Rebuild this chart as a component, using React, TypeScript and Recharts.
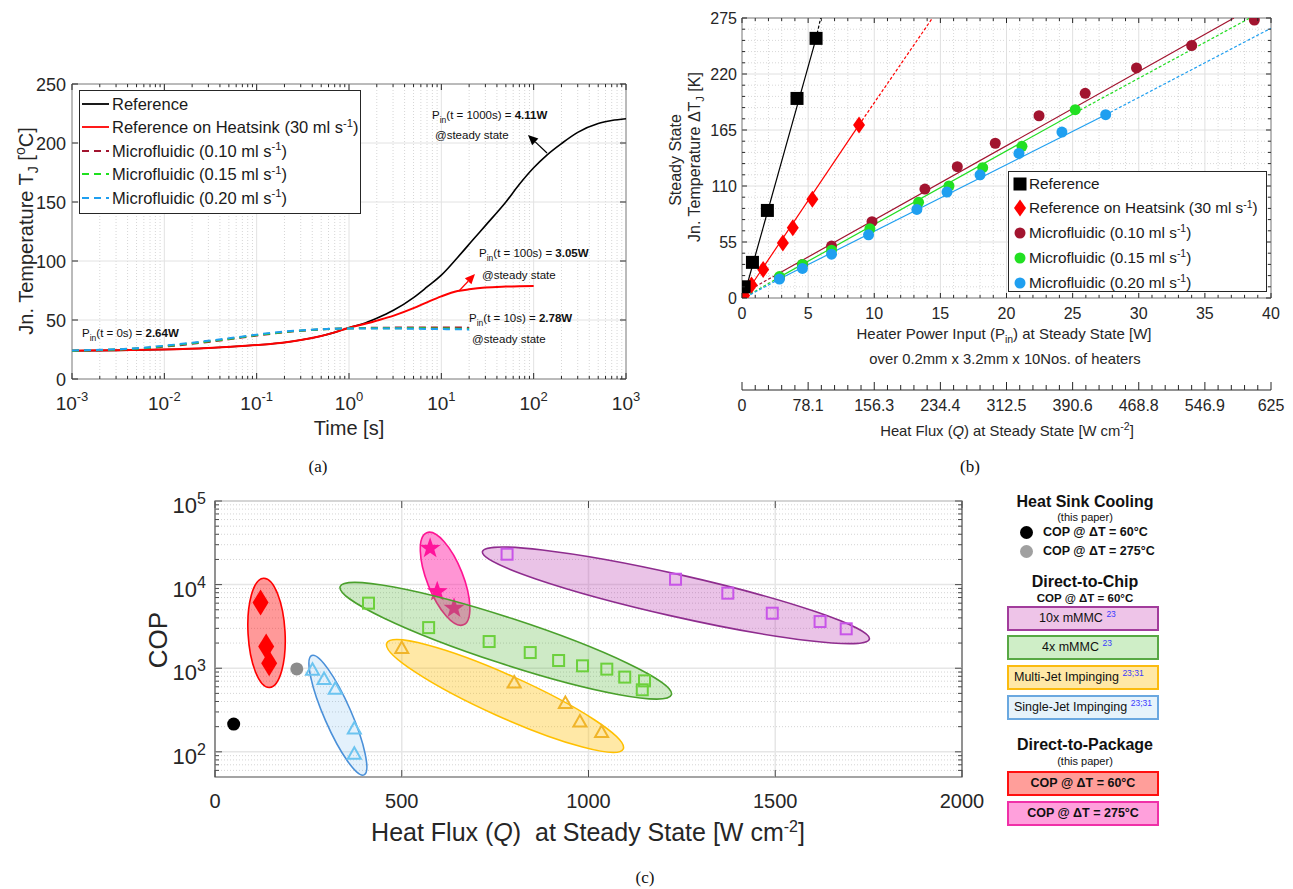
import React from 'react';
import {
  LineChart,
  Line,
  ScatterChart,
  Scatter,
  XAxis,
  YAxis,
  ReferenceLine,
  ReferenceArea,
} from 'recharts';

const SANS = '"Liberation Sans", Arial, Helvetica, sans-serif';
const NARROW = '"Liberation Sans Narrow", "Arial Narrow", "Liberation Sans", sans-serif';
const SERIF = '"Liberation Serif", "DejaVu Serif", serif';
const INK = '#262626';

// ---------- (a) junction temperature vs time ----------
const timeRef = [0.001, 0.003, 0.01, 0.03, 0.1, 0.2, 0.3, 0.5, 0.7, 1, 1.5, 2, 3, 5, 7, 10, 15, 22, 30, 50, 70, 100, 140, 200, 300, 500, 700, 1000];
const tempRef = [24, 24.3, 25, 26.3, 28.8, 31, 33, 36.5, 39.5, 43.5, 47.5, 51.5, 58, 69, 78, 88, 103, 118, 130, 150, 165, 179, 190, 199.5, 209, 216.5, 219, 220.5];
const timeHs = [0.001, 0.003, 0.01, 0.03, 0.1, 0.2, 0.3, 0.5, 0.7, 1, 1.5, 2, 3, 5, 7, 10, 15, 20, 30, 50, 100];
const tempHs = [24, 24.3, 25, 26.3, 28.8, 31, 33, 36.5, 39.5, 43.5, 46.8, 49.5, 53.5, 60, 65, 70, 74.5, 76, 77.5, 78.3, 78.8];
const timeMf = [0.001, 0.002, 0.005, 0.01, 0.02, 0.05, 0.1, 0.2, 0.5, 1, 2, 5, 10, 20];
const tempMf010 = [24, 24.4, 25.6, 27.4, 29.8, 33.6, 36.8, 39.6, 42, 43, 43.4, 43.6, 43.6, 43.5];
const tempMf015 = [24, 24.5, 25.8, 27.8, 30.3, 34, 37.2, 39.9, 42.1, 42.9, 43.1, 43, 42.8, 42.6];
const tempMf020 = [24.2, 24.7, 26.1, 28.2, 30.8, 34.5, 37.6, 40.2, 42.2, 42.8, 42.8, 42.6, 42.3, 42];
const decadesA = [0.001, 0.01, 0.1, 1, 10, 100, 1000];
const tempTicksA = [0, 50, 100, 150, 200, 250];

// ---------- (b) steady state dT vs heater power ----------
const refPower = [0.16, 0.79, 1.92, 4.16, 5.6];
const refDeltaT = [11, 35, 86, 196, 255];
const hsPower = [0.16, 0.72, 1.6, 3.09, 3.84, 5.32, 8.85];
const hsDeltaT = [2.5, 12.7, 28, 54, 69, 97, 170];
const mf010Power = [2.83, 4.57, 6.77, 9.83, 13.83, 16.28, 19.15, 22.46, 25.95, 29.83, 34.0, 38.74];
const mf010DeltaT = [20, 33, 51, 75, 107, 129, 152, 179, 201, 226, 248, 273];
const mf015Power = [2.83, 4.57, 6.77, 9.67, 13.35, 15.65, 18.2, 21.17, 25.2];
const mf015DeltaT = [21, 33, 47, 68, 94, 110, 128, 149, 185];
const mf020Power = [2.83, 4.57, 6.77, 9.57, 13.22, 15.5, 18.0, 20.94, 24.19, 27.5];
const mf020DeltaT = [18.6, 29, 43, 62, 87, 104, 121, 142, 163, 180];
// fitted lines (knots of solid / dashed pieces)
const fitRefPower = [0.15, 5.6, 5.95];
const fitRefDeltaT = [2, 255, 275];
const fitHsPower = [0.15, 8.85, 14.4];
const fitHsDeltaT = [2, 170, 275];
const fitMf010Power = [0, 2.7, 37.2];
const fitMf010DeltaT = [4, 23.5, 275];
const fitMf015Power = [0.3, 2.83, 25.2, 38.4];
const fitMf015DeltaT = [1.5, 20.5, 182, 275];
const fitMf020Power = [0.3, 2.83, 27.5, 40];
const fitMf020DeltaT = [1, 18.6, 180, 265];
const powerTicks = [0, 5, 10, 15, 20, 25, 30, 35, 40];
const deltaTTicks = [0, 55, 110, 165, 220, 275];
const fluxTickLabels = ['0', '78.1', '156.3', '234.4', '312.5', '390.6', '468.8', '546.9', '625'];

// ---------- (c) COP vs heat flux ----------
const hs60Flux = [50];
const hs60Cop = [215];
const hs275Flux = [219];
const hs275Cop = [980];
const dtp60Flux = [122, 137, 145];
const dtp60Cop = [6100, 1815, 1150];
const dtp275Flux = [576, 595, 640];
const dtp275Cop = [27200, 8240, 5220];
const mmmc10Flux = [782, 1233, 1373, 1492, 1620, 1690];
const mmmc10Cop = [23100, 11600, 7900, 4550, 3615, 2960];
const mmmc4Flux = [411, 572, 734, 844, 920, 984, 1049, 1097, 1150, 1144];
const mmmc4Cop = [6000, 3060, 2085, 1540, 1236, 1068, 975, 783, 706, 552];
const multiJetFlux = [500, 801, 938, 977, 1035];
const multiJetCop = [1740, 675, 383, 231, 173];
const singleJetFlux = [261, 292, 322, 373, 373];
const singleJetCop = [957, 741, 568, 190, 95];
// group outlines: [flux tip 1, COP tip 1, flux tip 2, COP tip 2, half width px]
const ellipseDtp60 = [130, 11900, 146, 588, 18.5];
const ellipseSingleJet = [259, 1420, 399, 53, 13.5];
const ellipseDtp275 = [567, 41800, 665, 3300, 18];
const ellipseMmmc4 = [335, 9460, 1222, 481, 23];
const ellipseMultiJet = [460, 2000, 1093, 108, 21];
const ellipseMmmc10 = [716, 24800, 1752, 2230, 21];
const fluxTicksC = [0, 500, 1000, 1500, 2000];
const copDecades = [100, 1000, 10000, 100000];

const pts = (xs: number[], ys: number[]) => xs.map((x, i) => ({ x, y: ys[i] }));
const seg = (xs: number[], ys: number[], a: number, b: number) => pts(xs.slice(a, b + 1), ys.slice(a, b + 1));

// layout
const A = { w: 645, h: 450, top: 84, yw: 72, right: 19, xh: 71, pw: 554, ph: 295 };
const B = { w: 648, h: 450, top: 18, yw: 97, right: 22, pw: 529, ph: 280 };
const C = { w: 860, h: 400, top: 21, yw: 85, right: 28, xh: 103, pw: 747, ph: 276 };

const minorLog = (decades: number[]) => {
  const out: number[] = [];
  decades.slice(0, -1).forEach((d) => {
    for (let m = 2; m <= 9; m++) out.push(+(d * m).toPrecision(3));
  });
  return out;
};
const minorA = minorLog(decadesA);
const ticksA = [...decadesA, ...minorA].sort((a, b) => a - b);
const minorC = [60, 70, 80, 90, ...minorLog(copDecades)];
const ticksCy = [...copDecades, ...minorC].sort((a, b) => a - b);
const powerAll = Array.from({ length: 41 }, (_, i) => i);
const deltaTAll = Array.from({ length: 26 }, (_, i) => i * 11);
const fluxAll = Array.from({ length: 41 }, (_, i) => i * 15.625);

const isDecade = (v: number) => Math.abs(Math.log10(v) - Math.round(Math.log10(v))) < 1e-6;

// ---------- tick renderers ----------
const LogXTickA = (p: any) => {
  const { x, y, payload } = p;
  const major = isDecade(payload.value);
  const len = major ? 6 : 3;
  return (
    <g>
      <line x1={x} x2={x} y1={y} y2={y - len} stroke={INK} />
      <line x1={x} x2={x} y1={y - A.ph} y2={y - A.ph + len} stroke={INK} />
      {major && (
        <text x={x} y={y + 31} textAnchor="middle" fontFamily={SANS} fontSize={19} fill={INK}>
          10<tspan dy={-9} fontSize={13}>{Math.round(Math.log10(payload.value))}</tspan>
        </text>
      )}
    </g>
  );
};

const YTickA = (p: any) => {
  const { x, y, payload } = p;
  return (
    <g>
      <line x1={x} x2={x + 6} y1={y} y2={y} stroke={INK} />
      <line x1={x + A.pw} x2={x + A.pw - 6} y1={y} y2={y} stroke={INK} />
      <text x={x - 6} y={y + 6.5} textAnchor="end" fontFamily={SANS} fontSize={18} fill={INK}>
        {payload.value}
      </text>
    </g>
  );
};

const PowerTick = (p: any) => {
  const { x, y, payload } = p;
  const major = payload.value % 5 === 0;
  const len = major ? 5 : 3;
  return (
    <g>
      <line x1={x} x2={x} y1={y} y2={y - len} stroke={INK} />
      <line x1={x} x2={x} y1={y - B.ph} y2={y - B.ph + len} stroke={INK} />
      {major && (
        <text x={x} y={y + 21} textAnchor="middle" fontFamily={SANS} fontSize={16} fill={INK}>
          {payload.value}
        </text>
      )}
    </g>
  );
};

const FluxTick = (p: any) => {
  const { x, y, index } = p;
  const major = index % 5 === 0;
  return (
    <g>
      <line x1={x} x2={x} y1={y} y2={y - (major ? 8 : 5)} stroke={INK} />
      {major && (
        <text x={x} y={y + 21} textAnchor="middle" fontFamily={SANS} fontSize={16} fill={INK}>
          {fluxTickLabels[index / 5]}
        </text>
      )}
    </g>
  );
};

const DeltaTTick = (p: any) => {
  const { x, y, payload } = p;
  const major = payload.value % 55 === 0;
  const len = major ? 5 : 3;
  return (
    <g>
      <line x1={x} x2={x + len} y1={y} y2={y} stroke={INK} />
      <line x1={x + B.pw} x2={x + B.pw - len} y1={y} y2={y} stroke={INK} />
      {major && (
        <text x={x - 5} y={y + 5.5} textAnchor="end" fontFamily={SANS} fontSize={16} fill={INK}>
          {payload.value}
        </text>
      )}
    </g>
  );
};

const FluxTickC = (p: any) => {
  const { x, y, payload } = p;
  return (
    <g>
      <line x1={x} x2={x} y1={y} y2={y - 7} stroke="#4a4a4a" />
      <line x1={x} x2={x} y1={y - C.ph} y2={y - C.ph + 7} stroke="#4a4a4a" />
      <text x={x} y={y + 31} textAnchor="middle" fontFamily={SANS} fontSize={20} fill={INK}>
        {payload.value}
      </text>
    </g>
  );
};

const CopTick = (p: any) => {
  const { x, y, payload } = p;
  const major = isDecade(payload.value);
  const len = major ? 7 : 4;
  return (
    <g>
      <line x1={x} x2={x + len} y1={y} y2={y} stroke="#4a4a4a" />
      <line x1={x + C.pw} x2={x + C.pw - len} y1={y} y2={y} stroke="#4a4a4a" />
      {major && (
        <text x={x - 9} y={y + 12} textAnchor="end" fontFamily={SANS} fontSize={22} fill={INK}>
          10<tspan dy={-9} fontSize={16}>{Math.round(Math.log10(payload.value))}</tspan>
        </text>
      )}
    </g>
  );
};

// ---------- marker shapes ----------
const none = () => <g />;
const squareFill = (s: number, fill: string) => (p: any) => (
  <rect x={p.cx - s / 2} y={p.cy - s / 2} width={s} height={s} fill={fill} />
);
const diamondFill = (w: number, h: number, fill: string) => (p: any) => (
  <polygon
    points={`${p.cx},${p.cy - h / 2} ${p.cx + w / 2},${p.cy} ${p.cx},${p.cy + h / 2} ${p.cx - w / 2},${p.cy}`}
    fill={fill}
  />
);
const dot = (r: number, fill: string) => (p: any) => <circle cx={p.cx} cy={p.cy} r={r} fill={fill} />;
const starFill = (R: number, fill: string) => (p: any) => {
  const q: string[] = [];
  for (let i = 0; i < 10; i++) {
    const r = i % 2 === 0 ? R : R * 0.4;
    const a = -Math.PI / 2 + (i * Math.PI) / 5;
    q.push(`${p.cx + r * Math.cos(a)},${p.cy + r * Math.sin(a)}`);
  }
  return <polygon points={q.join(' ')} fill={fill} />;
};
const openSquare = (s: number, stroke: string) => (p: any) => (
  <rect x={p.cx - s / 2} y={p.cy - s / 2} width={s} height={s} fill="none" stroke={stroke} strokeWidth={2} />
);
const openTriangle = (stroke: string) => (p: any) => (
  <polygon
    points={`${p.cx},${p.cy - 6.5} ${p.cx + 6.5},${p.cy + 5} ${p.cx - 6.5},${p.cy + 5}`}
    fill="none"
    stroke={stroke}
    strokeWidth={2}
  />
);
const ellipseData = (e: number[]) => [{ x: (e[0] + e[2]) / 2, y: Math.sqrt(e[1] * e[3]), e }];
const ellipseShape = (fill: string, stroke: string) => (p: any) => {
  const e = p.payload.e;
  const dx = ((e[2] - e[0]) * C.pw) / 2000;
  const dy = (-(Math.log10(e[3]) - Math.log10(e[1])) * C.ph) / Math.log10(100000 / 50);
  const rx = Math.hypot(dx, dy) / 2;
  const ang = (Math.atan2(dy, dx) * 180) / Math.PI;
  return (
    <ellipse
      cx={p.cx}
      cy={p.cy}
      rx={rx}
      ry={e[4]}
      transform={`rotate(${ang} ${p.cx} ${p.cy})`}
      fill={fill}
      stroke={stroke}
      strokeWidth={1.6}
    />
  );
};

// ---------- panels ----------
function PanelA() {
  return (
    <LineChart width={A.w} height={A.h} margin={{ top: A.top, right: A.right, left: 0, bottom: 0 }}>
      <XAxis
        type="number"
        dataKey="x"
        scale="log"
        domain={[0.001, 1000]}
        ticks={ticksA}
        interval={0}
        allowDataOverflow
        height={A.xh}
        axisLine={false}
        tickLine={false}
        tickSize={0}
        tickMargin={0}
        tick={LogXTickA}
      />
      <YAxis
        type="number"
        domain={[0, 250]}
        ticks={tempTicksA}
        interval={0}
        allowDataOverflow
        width={A.yw}
        axisLine={false}
        tickLine={false}
        tickSize={0}
        tickMargin={0}
        tick={YTickA}
      />
      {minorA.map((v) => (
        <ReferenceLine key={'m' + v} x={v} stroke="#d6d6d6" strokeDasharray="1 2" />
      ))}
      {decadesA.map((v) => (
        <ReferenceLine key={'d' + v} x={v} stroke="#e2e2e2" />
      ))}
      {tempTicksA.map((v) => (
        <ReferenceLine key={'h' + v} y={v} stroke="#e2e2e2" />
      ))}
      <Line data={pts(timeRef, tempRef)} dataKey="y" type="monotone" stroke="#000" strokeWidth={1.6} dot={false} isAnimationActive={false} />
      <Line data={pts(timeHs, tempHs)} dataKey="y" type="monotone" stroke="#ff0000" strokeWidth={2} dot={false} isAnimationActive={false} />
      <Line data={pts(timeMf, tempMf010)} dataKey="y" type="monotone" stroke="#a2142f" strokeWidth={2} strokeDasharray="7 5" dot={false} isAnimationActive={false} />
      <Line data={pts(timeMf, tempMf015)} dataKey="y" type="monotone" stroke="#1ee01e" strokeWidth={2} strokeDasharray="7 5" dot={false} isAnimationActive={false} />
      <Line data={pts(timeMf, tempMf020)} dataKey="y" type="monotone" stroke="#1f9ff0" strokeWidth={2} strokeDasharray="7 5" dot={false} isAnimationActive={false} />
      <ReferenceArea x1={0.001} x2={1000} y1={0} y2={250} fill="none" stroke={INK} strokeWidth={1} />
    </LineChart>
  );
}

function PanelB() {
  const fitLine = (stroke: string, dashed: boolean) => ({
    stroke,
    strokeWidth: 1.2,
    strokeDasharray: dashed ? '3 2' : undefined,
  });
  return (
    <ScatterChart width={B.w} height={B.h} margin={{ top: B.top, right: B.right, left: 0, bottom: 0 }}>
      <XAxis
        xAxisId="p"
        type="number"
        dataKey="x"
        domain={[0, 40]}
        ticks={powerAll}
        interval={0}
        allowDataOverflow
        height={92}
        axisLine={false}
        tickLine={false}
        tickSize={0}
        tickMargin={0}
        tick={PowerTick}
      />
      <XAxis
        xAxisId="q"
        type="number"
        dataKey="x"
        domain={[0, 625]}
        ticks={fluxAll}
        interval={0}
        allowDataOverflow
        height={60}
        axisLine={{ stroke: INK }}
        tickLine={false}
        tickSize={0}
        tickMargin={0}
        tick={FluxTick}
      />
      <YAxis
        type="number"
        dataKey="y"
        domain={[0, 275]}
        ticks={deltaTAll}
        interval={0}
        allowDataOverflow
        width={B.yw}
        axisLine={false}
        tickLine={false}
        tickSize={0}
        tickMargin={0}
        tick={DeltaTTick}
      />
      {powerAll.filter((v) => v % 5 !== 0).map((v) => (
        <ReferenceLine key={'mx' + v} xAxisId="p" x={v} stroke="#d8d8d8" strokeDasharray="1 2" />
      ))}
      {deltaTAll.filter((v) => v % 55 !== 0).map((v) => (
        <ReferenceLine key={'my' + v} xAxisId="p" y={v} stroke="#d8d8d8" strokeDasharray="1 2" />
      ))}
      {powerTicks.map((v) => (
        <ReferenceLine key={'gx' + v} xAxisId="p" x={v} stroke="#e0e0e0" />
      ))}
      {deltaTTicks.map((v) => (
        <ReferenceLine key={'gy' + v} xAxisId="p" y={v} stroke="#e0e0e0" />
      ))}
      <Scatter xAxisId="p" data={seg(fitRefPower, fitRefDeltaT, 0, 1)} line={fitLine('#000', false)} shape={none} isAnimationActive={false} />
      <Scatter xAxisId="p" data={seg(fitRefPower, fitRefDeltaT, 1, 2)} line={fitLine('#000', true)} shape={none} isAnimationActive={false} />
      <Scatter xAxisId="p" data={seg(fitHsPower, fitHsDeltaT, 0, 1)} line={fitLine('#ff0000', false)} shape={none} isAnimationActive={false} />
      <Scatter xAxisId="p" data={seg(fitHsPower, fitHsDeltaT, 1, 2)} line={fitLine('#ff0000', true)} shape={none} isAnimationActive={false} />
      <Scatter xAxisId="p" data={seg(fitMf010Power, fitMf010DeltaT, 0, 1)} line={fitLine('#a2142f', true)} shape={none} isAnimationActive={false} />
      <Scatter xAxisId="p" data={seg(fitMf010Power, fitMf010DeltaT, 1, 2)} line={fitLine('#a2142f', false)} shape={none} isAnimationActive={false} />
      <Scatter xAxisId="p" data={seg(fitMf015Power, fitMf015DeltaT, 0, 1)} line={fitLine('#22dd22', true)} shape={none} isAnimationActive={false} />
      <Scatter xAxisId="p" data={seg(fitMf015Power, fitMf015DeltaT, 1, 2)} line={fitLine('#22dd22', false)} shape={none} isAnimationActive={false} />
      <Scatter xAxisId="p" data={seg(fitMf015Power, fitMf015DeltaT, 2, 3)} line={fitLine('#22dd22', true)} shape={none} isAnimationActive={false} />
      <Scatter xAxisId="p" data={seg(fitMf020Power, fitMf020DeltaT, 0, 1)} line={fitLine('#1f9ff0', true)} shape={none} isAnimationActive={false} />
      <Scatter xAxisId="p" data={seg(fitMf020Power, fitMf020DeltaT, 1, 2)} line={fitLine('#1f9ff0', false)} shape={none} isAnimationActive={false} />
      <Scatter xAxisId="p" data={seg(fitMf020Power, fitMf020DeltaT, 2, 3)} line={fitLine('#1f9ff0', true)} shape={none} isAnimationActive={false} />
      <Scatter xAxisId="p" data={pts(mf010Power, mf010DeltaT)} shape={dot(5.5, '#a2142f')} isAnimationActive={false} />
      <Scatter xAxisId="p" data={pts(mf015Power, mf015DeltaT)} shape={dot(5.5, '#22e022')} isAnimationActive={false} />
      <Scatter xAxisId="p" data={pts(mf020Power, mf020DeltaT)} shape={dot(5.5, '#1f9ff0')} isAnimationActive={false} />
      <Scatter xAxisId="p" data={pts(hsPower, hsDeltaT)} shape={diamondFill(12, 17, '#ff0000')} isAnimationActive={false} />
      <Scatter xAxisId="p" data={pts(refPower, refDeltaT)} shape={squareFill(13, '#000')} isAnimationActive={false} />
      <ReferenceArea xAxisId="p" x1={0} x2={40} y1={0} y2={275} fill="none" stroke={INK} strokeWidth={1} />
    </ScatterChart>
  );
}

function PanelC() {
  return (
    <ScatterChart width={C.w} height={C.h} margin={{ top: C.top, right: C.right, left: 0, bottom: 0 }}>
      <XAxis
        type="number"
        dataKey="x"
        domain={[0, 2000]}
        ticks={fluxTicksC}
        interval={0}
        allowDataOverflow
        height={C.xh}
        axisLine={false}
        tickLine={false}
        tickSize={0}
        tickMargin={0}
        tick={FluxTickC}
      />
      <YAxis
        type="number"
        dataKey="y"
        scale="log"
        domain={[50, 100000]}
        ticks={ticksCy}
        interval={0}
        allowDataOverflow
        width={C.yw}
        axisLine={false}
        tickLine={false}
        tickSize={0}
        tickMargin={0}
        tick={CopTick}
      />
      {minorC.map((v) => (
        <ReferenceLine key={'mc' + v} y={v} stroke="#d4d4d4" strokeDasharray="1 2" />
      ))}
      {copDecades.map((v) => (
        <ReferenceLine key={'dc' + v} y={v} stroke="#e6e6e6" strokeWidth={1.5} />
      ))}
      {fluxTicksC.slice(1, -1).map((v) => (
        <ReferenceLine key={'vc' + v} x={v} stroke="#e6e6e6" strokeWidth={1.5} />
      ))}
      <Scatter data={ellipseData(ellipseDtp60)} shape={ellipseShape('rgba(255,0,0,0.4)', '#ff0000')} isAnimationActive={false} />
      <Scatter data={ellipseData(ellipseSingleJet)} shape={ellipseShape('rgba(100,180,240,0.18)', '#4a90d9')} isAnimationActive={false} />
      <Scatter data={ellipseData(ellipseDtp275)} shape={ellipseShape('rgba(255,20,160,0.45)', '#ff1493')} isAnimationActive={false} />
      <Scatter data={pts(dtp275Flux, dtp275Cop)} shape={starFill(11, '#ff149b')} isAnimationActive={false} />
      <Scatter data={ellipseData(ellipseMultiJet)} shape={ellipseShape('rgba(255,190,0,0.35)', '#ffc000')} isAnimationActive={false} />
      <Scatter data={ellipseData(ellipseMmmc4)} shape={ellipseShape('rgba(80,180,50,0.28)', '#4aa02c')} isAnimationActive={false} />
      <Scatter data={ellipseData(ellipseMmmc10)} shape={ellipseShape('rgba(180,40,170,0.28)', '#8e2c8e')} isAnimationActive={false} />
      <Scatter data={pts(dtp60Flux, dtp60Cop)} shape={diamondFill(16, 26, '#ff0000')} isAnimationActive={false} />
      <Scatter data={pts(hs60Flux, hs60Cop)} shape={dot(6.5, '#000')} isAnimationActive={false} />
      <Scatter data={pts(hs275Flux, hs275Cop)} shape={dot(6.5, '#8c8c8c')} isAnimationActive={false} />
      <Scatter data={pts(mmmc10Flux, mmmc10Cop)} shape={openSquare(11, '#c855e8')} isAnimationActive={false} />
      <Scatter data={pts(mmmc4Flux, mmmc4Cop)} shape={openSquare(11, '#6cd03c')} isAnimationActive={false} />
      <Scatter data={pts(multiJetFlux, multiJetCop)} shape={openTriangle('#f0b429')} isAnimationActive={false} />
      <Scatter data={pts(singleJetFlux, singleJetCop)} shape={openTriangle('#6cc4f0')} isAnimationActive={false} />
      <ReferenceArea x1={0} x2={2000} y1={50} y2={100000} fill="none" stroke="#4a4a4a" strokeWidth={1.2} />
    </ScatterChart>
  );
}

// ---------- legends ----------
const Sup = ({ children, color }: any) => (
  <span style={{ fontSize: '0.68em', position: 'relative', top: '-0.55em', color }}>{children}</span>
);

const legendA = [
  { color: '#000', dash: false, label: <>Reference</> },
  { color: '#ff0000', dash: false, label: <>Reference on Heatsink (30 ml s<Sup>-1</Sup>)</> },
  { color: '#a2142f', dash: true, label: <>Microfluidic (0.10 ml s<Sup>-1</Sup>)</> },
  { color: '#1ee01e', dash: true, label: <>Microfluidic (0.15 ml s<Sup>-1</Sup>)</> },
  { color: '#1f9ff0', dash: true, label: <>Microfluidic (0.20 ml s<Sup>-1</Sup>)</> },
];

function LegendA() {
  return (
    <div
      style={{
        position: 'absolute', left: 79, top: 90, width: 282, height: 124, boxSizing: 'border-box',
        border: '1px solid #262626', background: '#fff', fontFamily: SANS, fontSize: 16.5, color: '#1a1a1a',
      }}
    >
      {legendA.map((it, i) => (
        <div key={i} style={{ position: 'absolute', left: 0, top: 12.5 + i * 23.5 - 10, height: 20, width: 280, lineHeight: '20px', whiteSpace: 'nowrap' }}>
          <svg width={30} height={20} style={{ position: 'absolute', left: 2, top: 0 }}>
            <line x1={0} x2={27} y1={10} y2={10} stroke={it.color} strokeWidth={it.dash ? 2 : 1.8} strokeDasharray={it.dash ? '7 5' : undefined} />
          </svg>
          <span style={{ position: 'absolute', left: 32, top: 0 }}>{it.label}</span>
        </div>
      ))}
    </div>
  );
}

const legendB = [
  { shape: 'square', color: '#000', label: <>Reference</> },
  { shape: 'diamond', color: '#ff0000', label: <>Reference on Heatsink (30 ml s<Sup>-1</Sup>)</> },
  { shape: 'dot', color: '#a2142f', label: <>Microfluidic (0.10 ml s<Sup>-1</Sup>)</> },
  { shape: 'dot', color: '#22e022', label: <>Microfluidic (0.15 ml s<Sup>-1</Sup>)</> },
  { shape: 'dot', color: '#1f9ff0', label: <>Microfluidic (0.20 ml s<Sup>-1</Sup>)</> },
];

function LegendB() {
  return (
    <div
      style={{
        position: 'absolute', left: 1008, top: 171, width: 259, height: 121, boxSizing: 'border-box',
        border: '1px solid #262626', background: '#fff', fontFamily: SANS, fontSize: 15.3, color: '#1a1a1a',
      }}
    >
      {legendB.map((it, i) => (
        <div key={i} style={{ position: 'absolute', left: 0, top: 11.5 + i * 24.75 - 10, height: 20, width: 257, lineHeight: '20px', whiteSpace: 'nowrap' }}>
          <svg width={20} height={20} style={{ position: 'absolute', left: 1, top: 0 }}>
            {it.shape === 'square' && <rect x={3.5} y={3.5} width={13} height={13} fill={it.color} />}
            {it.shape === 'diamond' && <polygon points="10,1.5 16,10 10,18.5 4,10" fill={it.color} />}
            {it.shape === 'dot' && <circle cx={10} cy={10} r={5.5} fill={it.color} />}
          </svg>
          <span style={{ position: 'absolute', left: 20, top: 0 }}>{it.label}</span>
        </div>
      ))}
    </div>
  );
}

const boxesC = [
  { top: 606, fill: '#eec4e8', border: '#a23c9c', left: 30, bold: false, label: <>10x mMMC <Sup color="#3a3aff">23</Sup></> },
  { top: 635, fill: '#cfeec7', border: '#58a844', left: 33, bold: false, label: <>4x mMMC <Sup color="#3a3aff">23</Sup></> },
  { top: 665, fill: '#ffe8a6', border: '#fbbb0f', left: 5, bold: false, label: <>Multi-Jet Impinging <Sup color="#3a3aff">23;31</Sup></> },
  { top: 695, fill: '#e6f3fb', border: '#6aa8e0', left: 5, bold: false, label: <>Single-Jet Impinging <Sup color="#3a3aff">23;31</Sup></> },
  { top: 771, fill: '#ff9e9a', border: '#ff1010', left: -1, bold: true, label: <>COP @ ΔT = 60°C</> },
  { top: 801, fill: '#ffa0dc', border: '#f030a8', left: -1, bold: true, label: <>COP @ ΔT = 275°C</> },
];

function LegendC() {
  const center = (top: number, size: number, bold: boolean, text: React.ReactNode, weight = 700) => (
    <div
      style={{
        position: 'absolute', left: 1000, width: 170, top: top - size * 0.6, textAlign: 'center',
        fontFamily: SANS, fontSize: size, fontWeight: bold ? weight : 400, color: '#111', lineHeight: `${size * 1.2}px`, whiteSpace: 'nowrap',
      }}
    >
      {text}
    </div>
  );
  return (
    <>
      {center(502, 16, true, 'Heat Sink Cooling')}
      {center(518, 11, false, '(this paper)')}
      <div style={{ position: 'absolute', left: 1019.5, top: 525.5, width: 13, height: 13, borderRadius: 7, background: '#000' }} />
      <div style={{ position: 'absolute', left: 1019.5, top: 544.5, width: 13, height: 13, borderRadius: 7, background: '#a0a0a0' }} />
      <div style={{ position: 'absolute', left: 1043, top: 524, fontFamily: SANS, fontSize: 12.5, fontWeight: 700, lineHeight: '16px', color: '#111', whiteSpace: 'nowrap' }}>COP @ ΔT = 60°C</div>
      <div style={{ position: 'absolute', left: 1043, top: 543, fontFamily: SANS, fontSize: 12.5, fontWeight: 700, lineHeight: '16px', color: '#111', whiteSpace: 'nowrap' }}>COP @ ΔT = 275°C</div>
      {center(582, 16, true, 'Direct-to-Chip')}
      {center(598.5, 11.5, true, 'COP @ ΔT = 60°C')}
      {boxesC.map((b, i) => (
        <div
          key={i}
          style={{
            position: 'absolute', left: 1007, top: b.top, width: 152, height: 24.5, boxSizing: 'border-box',
            background: b.fill, border: `2px solid ${b.border}`, fontFamily: SANS, fontSize: 12.5,
            fontWeight: b.bold ? 700 : 400, color: '#111', lineHeight: '20px', whiteSpace: 'nowrap',
            textAlign: b.left < 0 ? 'center' : 'left', paddingLeft: b.left < 0 ? 0 : b.left,
          }}
        >
          {b.label}
        </div>
      ))}
      {center(745, 16, true, 'Direct-to-Package')}
      {center(762, 11, false, '(this paper)')}
    </>
  );
}

// ---------- titles, annotations, captions ----------
const Arrow = ({ x1, y1, x2, y2, color }: any) => {
  const L = Math.hypot(x2 - x1, y2 - y1);
  const ux = (x2 - x1) / L;
  const uy = (y2 - y1) / L;
  const bx = x2 - ux * 10;
  const by = y2 - uy * 10;
  const nx = -uy * 4.5;
  const ny = ux * 4.5;
  return (
    <g>
      <line x1={x1} y1={y1} x2={bx} y2={by} stroke={color} strokeWidth={1.2} />
      <polygon points={`${x2},${y2} ${bx + nx},${by + ny} ${bx - nx},${by - ny}`} fill={color} />
    </g>
  );
};

const Pin = ({ x, y, t, w }: any) => (
  <text x={x} y={y} fontFamily={SANS} fontSize={11.5} fill="#111" style={{ whiteSpace: 'pre' }}>
    P<tspan dy={4} fontSize={8.5}>in</tspan>
    <tspan dy={-4}>{`(t = ${t}) = `}</tspan>
    <tspan fontWeight={700}>{w}</tspan>
  </text>
);

const Steady = ({ x, y }: any) => (
  <text x={x} y={y} fontFamily={SANS} fontSize={11.5} fill="#111">@steady state</text>
);

function Overlay() {
  return (
    <svg width={1293} height={889} style={{ position: 'absolute', left: 0, top: 0, pointerEvents: 'none' }}>
      {/* (a) */}
      <text transform="translate(33,231) rotate(-90)" textAnchor="middle" fontFamily={SANS} fontSize={20} fill={INK}>
        Jn. Temperature T<tspan dy={5} fontSize={14}>J</tspan>
        <tspan dy={-5}> [</tspan>
        <tspan dy={-8} fontSize={14}>o</tspan>
        <tspan dy={8}>C]</tspan>
      </text>
      <text x={349} y={435} textAnchor="middle" fontFamily={SANS} fontSize={20} fill={INK}>Time [s]</text>
      <Pin x={432} y={119} t="1000s" w="4.11W" />
      <Steady x={435} y={139} />
      <Pin x={479} y={257} t="100s" w="3.05W" />
      <Steady x={482} y={279} />
      <Pin x={469} y={322} t="10s" w="2.78W" />
      <Steady x={472} y={343} />
      <Pin x={82} y={337} t="0s" w="2.64W" />
      <Arrow x1={547} y1={153} x2={528} y2={135} color="#000" />
      <Arrow x1={459} y1={291} x2={475} y2={274} color="#ff0000" />

      {/* (b) */}
      <text transform="translate(681,160) rotate(-90)" textAnchor="middle" fontFamily={SANS} fontSize={16} fill={INK}>Steady State</text>
      <text transform="translate(700,157) rotate(-90)" textAnchor="middle" fontFamily={SANS} fontSize={16} fill={INK}>
        Jn. Temperature ΔT<tspan dy={4} fontSize={11}>J</tspan>
        <tspan dy={-4}> [K]</tspan>
      </text>
      <text x={1004} y={339} textAnchor="middle" fontFamily={NARROW} fontSize={15} fill={INK}>
        Heater Power Input (P<tspan dy={4} fontSize={10.5}>in</tspan>
        <tspan dy={-4}>) at Steady State [W]</tspan>
      </text>
      <text x={1005} y={364} textAnchor="middle" fontFamily={NARROW} fontSize={14.8} fill={INK}>
        over 0.2mm x 3.2mm x 10Nos. of heaters
      </text>
      <text x={1007} y={436} textAnchor="middle" fontFamily={NARROW} fontSize={14.8} fill={INK}>
        Heat Flux (<tspan fontStyle="italic">Q</tspan>) at Steady State [W cm
        <tspan dy={-6} fontSize={10.5}>-2</tspan>
        <tspan dy={6}>]</tspan>
      </text>

      {/* (c) */}
      <text transform="translate(167,640) rotate(-90)" textAnchor="middle" fontFamily={SANS} fontSize={26} fill={INK}>COP</text>
      <text x={588} y={841} textAnchor="middle" fontFamily={SANS} fontSize={25} fill={INK} style={{ whiteSpace: 'pre' }}>
        Heat Flux (<tspan fontStyle="italic">Q</tspan>)  at Steady State [W cm
        <tspan dy={-9} fontSize={16}>-2</tspan>
        <tspan dy={9}>]</tspan>
      </text>

      {/* captions */}
      <text x={318} y={472} textAnchor="middle" fontFamily={SERIF} fontSize={17} fill="#111">(a)</text>
      <text x={970} y={472} textAnchor="middle" fontFamily={SERIF} fontSize={17} fill="#111">(b)</text>
      <text x={645} y={883} textAnchor="middle" fontFamily={SERIF} fontSize={17} fill="#111">(c)</text>
    </svg>
  );
}

export default function App() {
  return (
    <div style={{ position: 'absolute', left: 0, top: 0, width: 1293, height: 889, background: '#fff', overflow: 'hidden' }}>
      <div style={{ position: 'absolute', left: 0, top: 0 }}>
        <PanelA />
      </div>
      <div style={{ position: 'absolute', left: 645, top: 0 }}>
        <PanelB />
      </div>
      <div style={{ position: 'absolute', left: 130, top: 480 }}>
        <PanelC />
      </div>
      <LegendA />
      <LegendB />
      <LegendC />
      <Overlay />
    </div>
  );
}
